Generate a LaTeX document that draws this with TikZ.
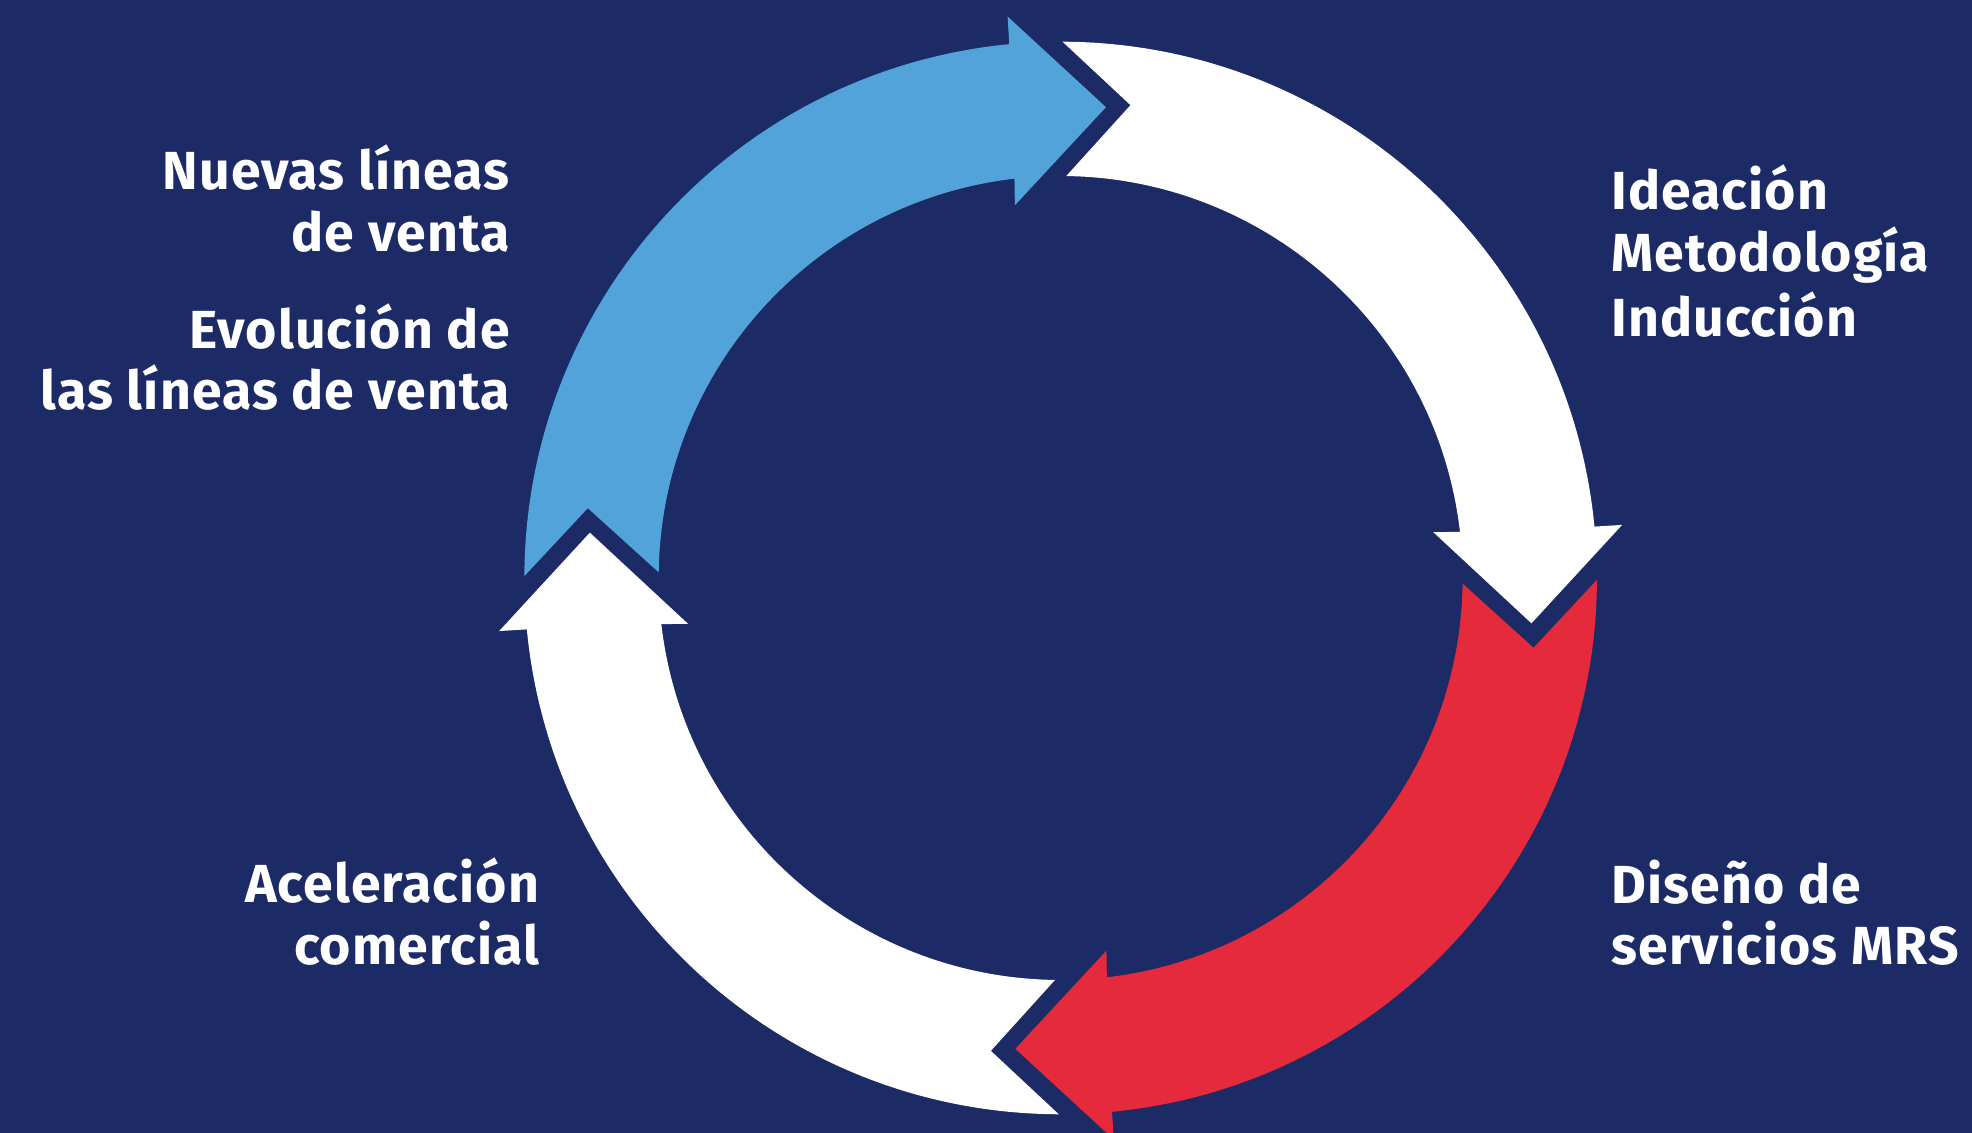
\documentclass[tikz,border=0pt]{standalone}
\usepackage{fontspec}
\setmainfont{Fira Sans}[LetterSpace=2.0]
\definecolor{navy}{HTML}{1C2A65}
\definecolor{skyblue}{HTML}{52A3DA}
\definecolor{mrsred}{HTML}{E52B3B}
\newcommand\cyclearrow[2]{%
  \begin{scope}[shift={(C)}, rotate=#1]
    \fill[#2] (179.8:536.3) arc[start angle=179.8, end angle=95.5, radius=536.3]
      -- (95.4:564) -- (84.5:473) -- (97:375.5) -- (96.6:402)
      arc[start angle=96.6, end angle=179.2, radius=402]
      -- (171.6:478) -- cycle;
  \end{scope}}
\tikzset{lbl/.style={text=white, font=\fontsize{26.8}{30}\selectfont\bfseries, inner sep=0pt}}
\begin{document}
\begin{tikzpicture}[x=0.5pt, y=0.5pt]
  \useasboundingbox (0,0) rectangle (1972,1133);
  \fill[navy] (0,0) rectangle (1972,1133);
  \clip (0,0) rectangle (1972,1133);
  \coordinate (C) at (1060.65,555);
  \cyclearrow{0}{skyblue}
  \cyclearrow{-90}{white}
  \cyclearrow{-180}{mrsred}
  \cyclearrow{-270}{white}
  % left top
  \node[lbl, anchor=base east] (t1) at (510,943) {Nuevas líneas};
  \node[lbl, anchor=base east] (t2) at (510,881.3) {de venta};
  \node[lbl, anchor=base east] (t3) at (510,784.7) {Evolución de};
  \node[lbl, anchor=base east] (t4) at (510,723) {las líneas de venta};
  % right top
  \node[lbl, anchor=base west] (r1) at (1611,923) {Ideación};
  \node[lbl, anchor=base west] (r2) at (1611,861.3) {Metodología};
  \node[lbl, anchor=base west] (r3) at (1611,796.3) {Inducción};
  % right bottom
  \node[lbl, anchor=base west] (d1) at (1611,229.7) {Diseño de};
  \node[lbl, anchor=base west] (d2) at (1611,168) {servicios MRS};
  % left bottom
  \node[lbl, anchor=base east] (a1) at (539.5,230) {Aceleración};
  \node[lbl, anchor=base east] (a2) at (539.5,168) {comercial};
\end{tikzpicture}
\end{document}
